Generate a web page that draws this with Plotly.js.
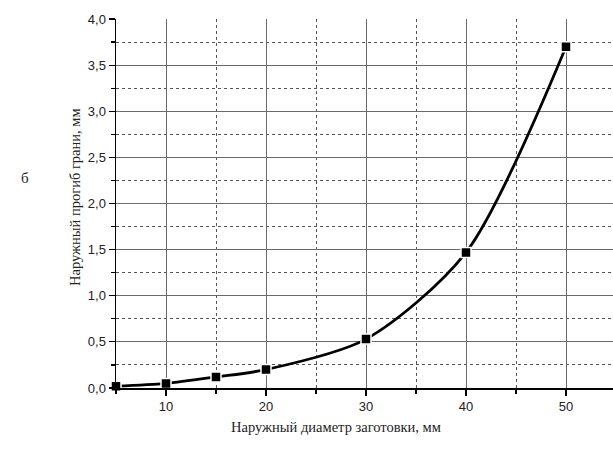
<!DOCTYPE html>
<html>
<head>
<meta charset="utf-8">
<script src="https://cdn.plot.ly/plotly-3.0.1.min.js"></script>
<style>html,body{margin:0;padding:0;background:#fff}#chart{width:613px;height:453px}</style>
</head>
<body>
<div id="chart"></div>
<script>
const diameter = [5, 10, 15, 20, 30, 40, 50];
const deflection = [0.02, 0.05, 0.12, 0.2, 0.53, 1.47, 3.7];
const xTitle = "Наружный диаметр заготовки, мм";
const yTitle = "Наружный прогиб грани, мм";
const panelLabel = "б";

const trace = {
  x: diameter, y: deflection, type: 'scatter', mode: 'lines+markers',
  line: {shape: 'spline', smoothing: 0.8, color: '#000', width: 2.8},
  marker: {symbol: 'square', size: 10, color: '#000', line: {color: '#fff', width: 1.5}},
  cliponaxis: false, hoverinfo: 'none'
};

const serif = 'Liberation Serif, Times New Roman, serif';
const layout = {
  width: 613, height: 453,
  margin: {l: 116, r: 0, t: 19, b: 65},
  paper_bgcolor: '#fff', plot_bgcolor: '#fff',
  separators: ', ',
  showlegend: false,
  font: {family: 'Liberation Sans, Arial, sans-serif', size: 13, color: '#222'},
  xaxis: {
    range: [5, 54.7], tick0: 0, dtick: 10,
    showline: true, linecolor: '#000', linewidth: 1.5,
    ticks: 'outside', ticklen: 6, tickcolor: '#000', tickwidth: 1.2,
    showgrid: true, gridcolor: '#6a6a6a', gridwidth: 1,
    zeroline: false,
    minor: {dtick: 5, tick0: 0, showgrid: true, gridcolor: '#555', griddash: 'dot', gridwidth: 1, ticks: 'outside', ticklen: 4, tickcolor: '#000'},
    tickfont: {size: 13, color: '#222'}
  },
  yaxis: {
    range: [0, 4], tick0: 0, dtick: 0.5, tickformat: '.1f',
    showline: true, linecolor: '#000', linewidth: 1.5,
    ticks: 'outside', ticklen: 6, tickcolor: '#000', tickwidth: 1.2,
    showgrid: true, gridcolor: '#6a6a6a', gridwidth: 1,
    zeroline: false,
    minor: {dtick: 0.25, tick0: 0, showgrid: true, gridcolor: '#555', griddash: 'dot', gridwidth: 1, ticks: 'outside', ticklen: 4, tickcolor: '#000'},
    tickfont: {size: 13, color: '#222'}
  },
  annotations: [
    {text: xTitle, xref: 'paper', yref: 'paper', showarrow: false,
     font: {family: serif, size: 14.5, color: '#222'}},
    {text: yTitle, xref: 'paper', yref: 'paper', showarrow: false, textangle: -90,
     font: {family: serif, size: 14.5, color: '#222'}},
    {text: panelLabel, xref: 'paper', yref: 'paper', showarrow: false,
     font: {family: serif, size: 15, color: '#222'}}
  ]
};

const pw = 613 - 116, ph = 453 - 19 - 65;
function px(x){ return (x - 116) / pw; }
function py(y){ return (453 - 65 - y) / ph; }
layout.annotations[0].x = px(336); layout.annotations[0].y = py(437);
layout.annotations[1].x = px(65); layout.annotations[1].y = py(197);
layout.annotations[2].x = px(19); layout.annotations[2].y = py(178);

Plotly.newPlot('chart', [trace], layout, {staticPlot: true});
</script>
</body>
</html>
